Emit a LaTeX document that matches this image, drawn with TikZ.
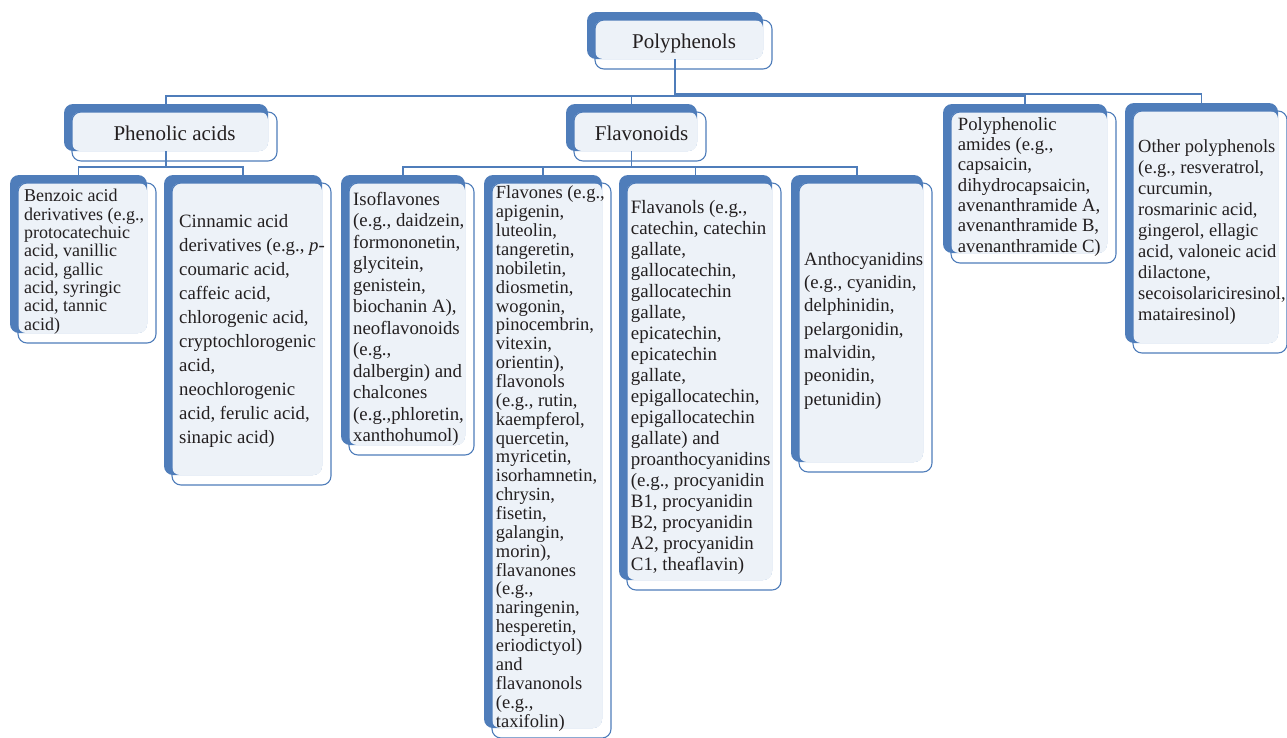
\documentclass[tikz,border=0pt]{standalone}
\usepackage{fontspec}
\setmainfont{Liberation Serif}
\definecolor{sblue}{RGB}{79,125,186}
\definecolor{slight}{RGB}{237,242,248}
\definecolor{stext}{RGB}{35,31,32}
\tikzset{
  backbox/.style={fill=sblue, draw=none, rounded corners=9pt, inner sep=0pt},
  lightfill/.style={fill=slight, rounded corners=8pt},
  frontbox/.style={draw=sblue, line width=1.1pt, rounded corners=9pt, inner sep=0pt},
  conn/.style={draw=sblue, line width=1.2pt},
  txt/.style={inner sep=0pt, align=left, text=stext, anchor=base west},
  ttl/.style={inner sep=0pt, text=stext, anchor=base, font=\fontsize{21}{25}\selectfont},
}
\newcommand\mkbox[5]{%
  \node[backbox, minimum width={(#4-#2)*1pt}, minimum height={(#5-#3)*1pt}] (#1-b) at ({(#2+#4)/2},{(#3+#5)/2}) {};
  \fill[lightfill] ({#2+8},{#3+8}) rectangle (#4,#5);
  \node[frontbox, minimum width={(#4-#2+1)*1pt}, minimum height={(#5-#3+2)*1pt}] (#1-f) at ({(#2+#4)/2+8.5},{(#3+#5)/2+9}) {};
}
\begin{document}
\begin{tikzpicture}[x=1pt, y=-1pt]
\useasboundingbox (0,0) rectangle (1287,737);
% bus levels
\coordinate (bus0) at (0,96);
\coordinate (bus0b) at (0,94);
\coordinate (bus1) at (0,167);

% boxes
\mkbox{poly}{587}{12}{763}{59}
\mkbox{phen}{64}{104}{268}{151}
\mkbox{flav}{566}{104}{697}{151}
\mkbox{amid}{943}{104}{1107}{253}
\mkbox{othr}{1125}{103}{1278}{343}
\mkbox{benz}{10}{175}{147}{333}
\mkbox{cinn}{164}{175}{322}{475}
\mkbox{isof}{341}{175}{465}{445}
\mkbox{flvn}{484}{175}{602}{728}
\mkbox{flnl}{619}{175}{772}{580}
\mkbox{anth}{791}{175}{923}{462}

% connectors
\draw[conn] (poly-b.south) -- (poly-b.south |- bus0) -| (phen-b.north);
\draw[conn] (poly-b.south) -- (poly-b.south |- bus0) -| (flav-b.north);
\draw[conn] (poly-b.south) -- (poly-b.south |- bus0) -| (amid-b.north);
\draw[conn] (poly-b.south) -- (poly-b.south |- bus0b) -| (othr-b.north);
\draw[conn] (phen-b.south) -- (phen-b.south |- bus1) -| (benz-b.north);
\draw[conn] (phen-b.south) -- (phen-b.south |- bus1) -| (cinn-b.north);
\draw[conn] (flav-b.south) -- (flav-b.south |- bus1) -| (isof-b.north);
\draw[conn] (flav-b.south) -- (flav-b.south |- bus1) -| (flvn-b.north);
\draw[conn] (flav-b.south) -- (flav-b.south |- bus1) -| (flnl-b.north);
\draw[conn] (flav-b.south) -- (flav-b.south |- bus1) -| (anth-b.north);

% titles
\node[ttl] (poly-t) at (684,48.3) {Polyphenols};
\node[ttl] (phen-t) at (174.5,140.7) {Phenolic acids};
\node[ttl] (flav-t) at (641.5,140.7) {Flavonoids};

% leaf texts (anchored at the baseline of the last line)
\node[txt, font=\fontsize{18}{18.3}\selectfont] (benz-t) at (24,330) {Benzoic acid\\derivatives (e.g.,\\protocatechuic\\acid, vanillic\\acid, gallic\\acid, syringic\\acid, tannic\\acid)};
\node[txt, font=\fontsize{18.8}{23.9}\selectfont] (cinn-t) at (179,443) {Cinnamic acid\\derivatives (e.g., \textit{p}-\\coumaric acid,\\caffeic acid,\\chlorogenic acid,\\cryptochlorogenic\\acid,\\neochlorogenic\\acid, ferulic acid,\\sinapic acid)};
\node[txt, font=\fontsize{18.8}{21.5}\selectfont] (isof-t) at (353,441.7) {Isoflavones\\(e.g., daidzein,\\formononetin,\\glycitein,\\genistein,\\biochanin A),\\neoflavonoids\\(e.g.,\\dalbergin) and\\chalcones\\(e.g.,phloretin,\\xanthohumol)};
\node[txt, font=\fontsize{18.5}{18.86}\selectfont] (flvn-t) at (495.7,727) {Flavones (e.g.,\\apigenin,\\luteolin,\\tangeretin,\\nobiletin,\\diosmetin,\\wogonin,\\pinocembrin,\\vitexin,\\orientin),\\flavonols\\(e.g., rutin,\\kaempferol,\\quercetin,\\myricetin,\\isorhamnetin,\\chrysin,\\fisetin,\\galangin,\\morin),\\flavanones\\(e.g.,\\naringenin,\\hesperetin,\\eriodictyol)\\and\\flavanonols\\(e.g.,\\taxifolin)};
\node[txt, font=\fontsize{18.9}{21}\selectfont] (flnl-t) at (630.7,570) {Flavanols (e.g.,\\catechin, catechin\\gallate,\\gallocatechin,\\gallocatechin\\gallate,\\epicatechin,\\epicatechin\\gallate,\\epigallocatechin,\\epigallocatechin\\gallate) and\\proanthocyanidins\\(e.g., procyanidin\\B1, procyanidin\\B2, procyanidin\\A2, procyanidin\\C1, theaflavin)};
\node[txt, font=\fontsize{18.8}{23.3}\selectfont] (anth-t) at (804,405) {Anthocyanidins\\(e.g., cyanidin,\\delphinidin,\\pelargonidin,\\malvidin,\\peonidin,\\petunidin)};
\node[txt, font=\fontsize{18.7}{20.3}\selectfont] (amid-t) at (957.7,252) {Polyphenolic\\amides (e.g.,\\capsaicin,\\dihydrocapsaicin,\\avenanthramide A,\\avenanthramide B,\\avenanthramide C)};
\node[txt, font=\fontsize{18.5}{21}\selectfont] (othr-t) at (1138,320) {Other polyphenols\\(e.g., resveratrol,\\curcumin,\\rosmarinic acid,\\gingerol, ellagic\\acid, valoneic acid\\dilactone,\\secoisolariciresinol,\\matairesinol)};
\end{tikzpicture}
\end{document}
